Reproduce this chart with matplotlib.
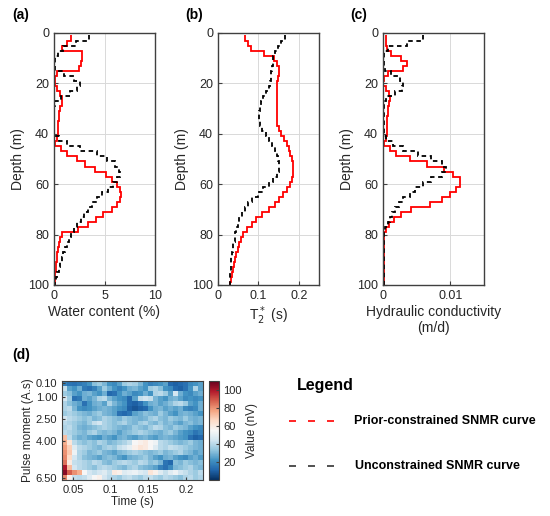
import numpy as np
import matplotlib
matplotlib.use("Agg")
import matplotlib.pyplot as plt
from matplotlib.lines import Line2D

plt.rcParams['font.family'] = ['Liberation Sans', 'DejaVu Sans']

# depth layers (m), 2 m thick
depth_edges = np.r_[np.arange(1, 100, 2), 100]

# (a) water content (%)
wc_prior = [1.7, 1.3, 0.8, 2.8, 2.8, 2.7, 2.5, 0.3, 0.1, 0.05,
            0.3, 0.6, 0.8, 0.75, 0.6, 0.5, 0.45, 0.4, 0.4, 0.35,
            0.3, 0.1, 0.65, 1.3, 2.3, 3.1, 4.1, 5.1, 5.7, 6.2,
            6.55, 6.6, 6.5, 6.2, 5.7, 4.9, 4.2, 3.4, 2.4, 0.8,
            0.6, 0.5, 0.4, 0.3, 0.25, 0.2, 0.15, 0.1, 0.05, 0.05]
wc_unc = [3.5, 2.2, 0.9, 0.4, 0.1, 0.05, 0.1, 1.0, 2.0, 2.6,
          2.3, 1.6, 0.7, 0.1, 0.02, 0.02, 0.02, 0.02, 0.02, 0.02,
          0.5, 1.3, 2.6, 4.3, 5.2, 6.0, 6.4, 6.5, 6.2, 5.8,
          5.3, 4.8, 4.3, 3.8, 3.4, 3.0, 2.7, 2.3, 2.0, 1.7,
          1.5, 1.3, 1.1, 0.9, 0.8, 0.6, 0.45, 0.3, 0.2, 0.1]

# (b) T2* (s)
t2_prior = [0.066, 0.073, 0.082, 0.115, 0.138, 0.147, 0.151, 0.150, 0.148, 0.146,
            0.145, 0.145, 0.145, 0.145, 0.145, 0.145, 0.146, 0.147, 0.150, 0.156,
            0.163, 0.170, 0.175, 0.179, 0.182, 0.185, 0.186, 0.185, 0.182, 0.177,
            0.170, 0.162, 0.152, 0.140, 0.125, 0.108, 0.093, 0.083, 0.072, 0.063,
            0.058, 0.053, 0.049, 0.045, 0.042, 0.039, 0.037, 0.034, 0.031, 0.029]
t2_unc = [0.165, 0.157, 0.148, 0.141, 0.137, 0.135, 0.133, 0.132, 0.131, 0.129,
          0.125, 0.119, 0.112, 0.107, 0.104, 0.102, 0.102, 0.104, 0.110, 0.119,
          0.127, 0.134, 0.141, 0.146, 0.149, 0.152, 0.152, 0.147, 0.137, 0.125,
          0.112, 0.098, 0.084, 0.075, 0.067, 0.060, 0.053, 0.049, 0.045, 0.043,
          0.041, 0.038, 0.036, 0.034, 0.033, 0.032, 0.031, 0.030, 0.029, 0.029]

# (c) hydraulic conductivity (m/d)
k_prior = [0.0004, 0.0004, 0.0006, 0.0012, 0.0026, 0.0036, 0.0030, 0.0008, 0.0001, 0.00005,
           0.0004, 0.0009, 0.0011, 0.0009, 0.0007, 0.0007, 0.0006, 0.0006, 0.0006, 0.0006,
           0.0005, 0.0002, 0.0010, 0.0020, 0.0040, 0.0065, 0.0090, 0.0104, 0.0114, 0.0114,
           0.0109, 0.0099, 0.0087, 0.0070, 0.0042, 0.0026, 0.0016, 0.0009, 0.0004, 0.0002,
           0.0001, 0.0001, 0.0001, 0.0001, 0.0001, 0.0001, 0.0001, 0.0001, 0.0001, 0.0001]
k_unc = [0.0060, 0.0035, 0.0007, 0.0002, 0.0001, 0.0001, 0.0003, 0.0012, 0.0025, 0.0030,
         0.0028, 0.0018, 0.0005, 0.0001, 0.0001, 0.0001, 0.0001, 0.0001, 0.0001, 0.0001,
         0.0005, 0.0015, 0.0030, 0.0052, 0.0072, 0.0087, 0.0093, 0.0087, 0.0072, 0.0060,
         0.0048, 0.0040, 0.0030, 0.0023, 0.0018, 0.0013, 0.0010, 0.0007, 0.0003, 0.0002,
         0.0001, 0.0001, 0.0001, 0.0001, 0.0001, 0.0001, 0.0001, 0.0001, 0.0001, 0.0001]

# (d) SNMR data (nV), rows = pulse moments, cols = time gates
pulse_moments = [0.10, 0.44, 0.77, 1.11, 1.45, 1.78, 2.12, 2.46, 2.79, 3.13,
                 3.47, 3.81, 4.14, 4.48, 4.82, 5.15, 5.49, 5.83, 6.16, 6.50]
time_gates = np.linspace(0.0387, 0.2191, 28)
snmr = np.array([
    [18, 15, 14, 16, 18, 22, 32, 35, 30, 22, 20, 25, 35, 38, 36, 30, 22, 18, 20, 22, 25, 12, 10, 12, 14, 20, 22, 25],
    [42, 25, 22, 28, 16, 14, 18, 25, 35, 28, 22, 18, 22, 28, 30, 25, 22, 35, 38, 32, 22, 20, 12, 10, 14, 22, 38, 25],
    [35, 32, 25, 22, 28, 30, 25, 22, 28, 12, 14, 22, 28, 25, 20, 22, 28, 22, 38, 40, 35, 25, 45, 28, 22, 20, 25, 28],
    [45, 35, 14, 16, 28, 25, 30, 38, 40, 30, 25, 22, 20, 12, 25, 42, 45, 42, 30, 25, 22, 28, 30, 25, 20, 22, 20, 22],
    [38, 32, 28, 25, 14, 22, 28, 30, 25, 38, 30, 25, 22, 12, 10, 14, 22, 28, 30, 25, 28, 32, 38, 40, 35, 25, 22, 28],
    [38, 40, 30, 22, 20, 22, 25, 28, 30, 28, 25, 22, 20, 10, 8, 10, 12, 22, 28, 30, 25, 28, 25, 28, 20, 18, 20, 28],
    [35, 38, 35, 32, 30, 28, 32, 35, 30, 28, 25, 14, 12, 15, 25, 28, 32, 30, 28, 35, 30, 25, 22, 28, 30, 28, 25, 22],
    [45, 40, 38, 35, 32, 35, 30, 32, 38, 35, 32, 30, 35, 32, 30, 28, 30, 35, 38, 32, 30, 35, 32, 30, 35, 30, 28, 30],
    [40, 38, 35, 32, 30, 35, 42, 45, 38, 35, 32, 35, 38, 32, 30, 35, 38, 32, 30, 35, 30, 32, 28, 25, 30, 32, 28, 30],
    [38, 40, 35, 30, 28, 30, 32, 35, 38, 35, 32, 30, 28, 30, 35, 32, 30, 35, 40, 38, 32, 30, 35, 32, 30, 25, 22, 20],
    [40, 38, 35, 32, 30, 35, 38, 32, 30, 32, 30, 25, 30, 32, 35, 38, 35, 32, 30, 28, 32, 35, 30, 25, 22, 20, 15, 18],
    [72, 40, 32, 28, 30, 26, 24, 22, 28, 25, 22, 28, 30, 26, 24, 28, 30, 26, 24, 28, 30, 28, 26, 24, 22, 14, 10, 12],
    [75, 62, 40, 35, 32, 35, 32, 38, 35, 30, 32, 35, 38, 42, 55, 58, 60, 55, 52, 40, 38, 35, 32, 30, 32, 35, 30, 28],
    [78, 68, 48, 40, 38, 35, 32, 30, 35, 38, 35, 42, 45, 50, 58, 62, 60, 55, 48, 40, 38, 42, 40, 38, 35, 32, 30, 28],
    [80, 70, 52, 38, 35, 30, 32, 35, 30, 28, 25, 30, 32, 35, 38, 35, 32, 30, 32, 35, 30, 32, 35, 38, 32, 30, 25, 28],
    [82, 66, 45, 38, 32, 30, 28, 25, 30, 32, 30, 25, 22, 28, 30, 32, 35, 30, 25, 22, 28, 30, 25, 22, 20, 25, 28, 24],
    [85, 60, 42, 40, 38, 35, 40, 38, 32, 30, 35, 38, 40, 38, 35, 40, 38, 32, 35, 30, 15, 12, 32, 30, 35, 32, 30, 32],
    [100, 72, 45, 40, 38, 35, 32, 38, 40, 38, 35, 32, 30, 35, 38, 32, 30, 28, 25, 18, 14, 20, 30, 32, 35, 38, 32, 30],
    [105, 88, 80, 75, 55, 45, 42, 45, 48, 42, 60, 58, 48, 50, 52, 48, 45, 62, 58, 48, 42, 48, 52, 45, 42, 38, 35, 40],
    [82, 58, 42, 40, 42, 48, 55, 58, 45, 40, 38, 35, 40, 42, 38, 35, 40, 42, 38, 35, 40, 38, 35, 32, 38, 40, 35, 38],
])

spine_col = '#404040'
txt_col = '#262626'

fig = plt.figure(figsize=(5.5, 5.16), dpi=100)


def profile_axes(rect, prior, unc, xlim, xticks, xticklabels, xlabel):
    ax = fig.add_axes(rect)
    ax.stairs(prior, depth_edges, orientation='horizontal', baseline=None,
              color='red', lw=1.3)
    ax.stairs(unc, depth_edges, orientation='horizontal', baseline=None,
              color='black', lw=1.3, ls=(0, (2.5, 2)))
    ax.set_xlim(*xlim)
    ax.set_ylim(100, 0)
    ax.set_xticks(xticks)
    ax.set_xticklabels(xticklabels)
    ax.set_yticks([0, 20, 40, 60, 80, 100])
    ax.grid(True, color='#d9d9d9', lw=0.7)
    ax.set_axisbelow(True)
    ax.tick_params(direction='in', length=3, labelsize=9, colors=spine_col,
                   labelcolor=txt_col, top=False, right=False)
    for s in ax.spines.values():
        s.set_color(spine_col)
        s.set_linewidth(1.0)
    ax.set_ylabel('Depth (m)', fontsize=10, color=txt_col, labelpad=2)
    ax.set_xlabel(xlabel, fontsize=10, color=txt_col, labelpad=2)
    return ax


prof_y, prof_h, prof_w = 0.4477, 0.4884, 0.1836
profile_axes([0.0982, prof_y, prof_w, prof_h], wc_prior, wc_unc, (0, 10),
             [0, 5, 10], ['0', '5', '10'], 'Water content (%)')
profile_axes([0.3964, prof_y, prof_w, prof_h], t2_prior, t2_unc, (0, 0.25),
             [0, 0.1, 0.2], ['0', '0.1', '0.2'], 'T$_2^*$ (s)')
profile_axes([0.6964, prof_y, prof_w, prof_h], k_prior, k_unc, (0, 0.015),
             [0, 0.01], ['0', '0.01'], 'Hydraulic conductivity\n(m/d)')

# heatmap
axh = fig.add_axes([0.1127, 0.0698, 0.2564, 0.1919])
mesh = axh.pcolormesh(time_gates, pulse_moments, snmr, cmap='RdBu_r',
                      vmin=0, vmax=110, shading='nearest')
axh.set_ylim(pulse_moments[-1] + 0.168, pulse_moments[0] - 0.168)
axh.set_xticks([0.05, 0.1, 0.15, 0.2])
axh.set_xticklabels(['0.05', '0.1', '0.15', '0.2'])
axh.set_yticks([0.1, 1.0, 2.5, 4.0, 6.5])
axh.set_yticklabels(['0.10', '1.00', '2.50', '4.00', '6.50'])
axh.tick_params(direction='in', length=2.5, labelsize=8, colors=spine_col,
                labelcolor=txt_col)
for s in axh.spines.values():
    s.set_color(spine_col)
axh.set_xlabel('Time (s)', fontsize=8.5, color=txt_col, labelpad=1)
axh.set_ylabel('Pulse moment (A.s)', fontsize=8.5, color=txt_col, labelpad=1)

cax = fig.add_axes([0.38, 0.0698, 0.0175, 0.1919])
cb = fig.colorbar(mesh, cax=cax, ticks=[20, 40, 60, 80, 100])
cb.ax.tick_params(direction='in', length=2, labelsize=8, colors=spine_col,
                  labelcolor=txt_col)
cb.outline.set_edgecolor(spine_col)
cb.set_label('Value (nV)', fontsize=8.5, color=txt_col, labelpad=3)

# panel labels
for x, y, lab in [(0.022, 0.971, '(a)'), (0.336, 0.971, '(b)'),
                  (0.636, 0.971, '(c)'), (0.022, 0.312, '(d)')]:
    fig.text(x, y, lab, fontsize=10, fontweight='bold', va='center')

# legend
fig.text(0.54, 0.252, 'Legend', fontsize=11.5, fontweight='bold', va='center')
fig.add_artist(Line2D([0.5255, 0.613], [0.184, 0.184], color='red', lw=1.2,
                      ls=(0, (4.2, 7.2)), transform=fig.transFigure))
fig.add_artist(Line2D([0.5255, 0.613], [0.097, 0.097], color='#333333', lw=1.2,
                      ls=(0, (4.2, 7.2)), transform=fig.transFigure))
fig.text(0.6436, 0.184, 'Prior-constrained SNMR curve', fontsize=9,
         fontweight='bold', va='center')
fig.text(0.6455, 0.097, 'Unconstrained SNMR curve', fontsize=9,
         fontweight='bold', va='center')

fig.savefig('out.png', dpi=100)
